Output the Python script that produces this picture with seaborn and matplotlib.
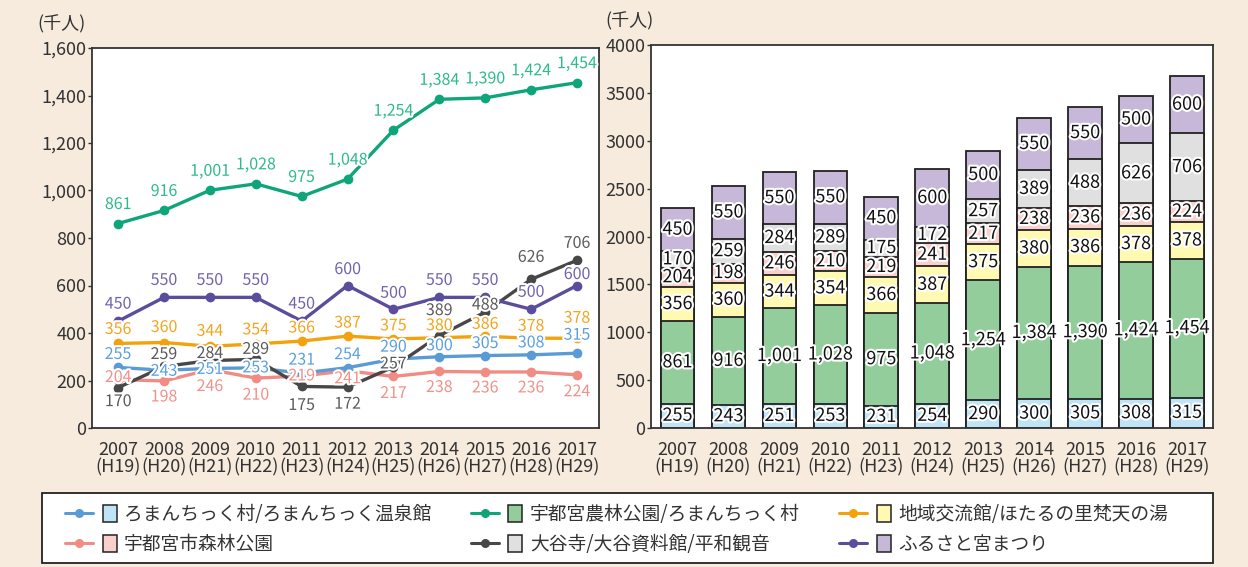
import numpy as np
import pandas as pd
import seaborn as sns
import matplotlib
matplotlib.use("Agg")
import matplotlib.pyplot as plt
import matplotlib.patheffects as pe
from matplotlib.lines import Line2D
from matplotlib.patches import Rectangle, Patch
from matplotlib.legend_handler import HandlerBase

# ---------------- data ----------------
years = ["2007", "2008", "2009", "2010", "2011", "2012", "2013", "2014", "2015", "2016", "2017"]
eras = ["(H19)", "(H20)", "(H21)", "(H22)", "(H23)", "(H24)", "(H25)", "(H26)", "(H27)", "(H28)", "(H29)"]
series_names = ["ろまんちっく村/ろまんちっく温泉館", "宇都宮農林公園/ろまんちっく村",
                "地域交流館/ほたるの里梵天の湯", "宇都宮市森林公園",
                "大谷寺/大谷資料館/平和観音", "ふるさと宮まつり"]
roman = [255, 243, 251, 253, 231, 254, 290, 300, 305, 308, 315]
nourin = [861, 916, 1001, 1028, 975, 1048, 1254, 1384, 1390, 1424, 1454]
chiiki = [356, 360, 344, 354, 366, 387, 375, 380, 386, 378, 378]
shinrin = [204, 198, 246, 210, 219, 241, 217, 238, 236, 236, 224]
ooya = [170, 259, 284, 289, 175, 172, 257, 389, 488, 626, 706]
furusato = [450, 550, 550, 550, 450, 600, 500, 550, 550, 500, 600]
values = [roman, nourin, chiiki, shinrin, ooya, furusato]

# ---------------- styles ----------------
line_colors = ["#5b9bd5", "#0ea57a", "#f2a20c", "#f08c84", "#474747", "#5b4d9c"]
label_colors = ["#5aa0e0", "#2dba8c", "#f5a41e", "#f29189", "#5a5a5a", "#6f63ad"]
fill_colors = ["#bfe4f7", "#93cd9c", "#fff9b1", "#f9d0cb", "#e0e0e0", "#c7b8da"]
# vertical label offsets (pixels, + = above the point)
label_dy = [
    [13, -1, -1, 0, 13, 13, 12, 11, 12, 12, 18],
    [19] * 11,
    [14, 15, 15, 14, 13, 13, 13, 12, 12, 12, 20],
    [2, -16, -17, -17, 0, -8, -17, -16, -16, -16, -17],
    [-14, 12, 7, 10, -19, -17, 3, 25, 7, 22, 17],
    [17, 17, 17, 17, 17, 16, 16, 17, 17, 17, 11],
]
draw_order = [1, 5, 4, 2, 0, 3]

W, H = 1248, 567
BG = "#f6ebdc"
DARK = "#333333"

sns.set_theme(style="white")
plt.rcParams["font.family"] = ["Noto Sans CJK JP", "DejaVu Sans"]

fig = plt.figure(figsize=(W / 100, H / 100), dpi=100, facecolor=BG)

def frac_axes(x0, y0, x1, y1):
    return fig.add_axes([x0 / W, 1 - y1 / H, (x1 - x0) / W, (y1 - y0) / H])

axL = frac_axes(92, 48, 599, 428)
axR = frac_axes(651, 45, 1213, 428)

xlabels = [f"{y}\n{e}" for y, e in zip(years, eras)]
xpos = np.arange(len(years))
halo = [pe.withStroke(linewidth=3, foreground="white")]

# ---------------- left: line chart ----------------
for i in draw_order:
    df = pd.DataFrame({"x": xpos, "y": values[i]})
    sns.lineplot(data=df, x="x", y="y", ax=axL, color=line_colors[i], linewidth=2.4,
                 marker="o", markersize=7, markeredgewidth=0, zorder=3 + (6 - draw_order.index(i)) * 0.1)
for i in range(6):
    for k, v in enumerate(values[i]):
        axL.annotate(f"{v:,}", (xpos[k], v), xytext=(0, label_dy[i][k]), textcoords="offset pixels",
                     ha="center", va="center", fontsize=11.5, color=label_colors[i],
                     path_effects=halo, zorder=6)
axL.set_xlim(-0.57, 10.48)
axL.set_ylim(0, 1600)
axL.set_yticks(range(0, 1601, 200))
axL.set_yticklabels([f"{t:,}" for t in range(0, 1601, 200)])
axL.set_xticks(xpos)
axL.set_xticklabels(xlabels, linespacing=0.95)
axL.set_xlabel("")
axL.set_ylabel("")

# ---------------- right: stacked bars ----------------
cum = np.cumsum(np.array(values), axis=0)
for i in range(5, -1, -1):
    df = pd.DataFrame({"cat": xlabels, "v": cum[i]})
    sns.barplot(data=df, x="cat", y="v", ax=axR, color=fill_colors[i], saturation=1,
                width=0.66, edgecolor="#222222", linewidth=1.3, order=xlabels)
for i in range(6):
    base = cum[i] - np.array(values[i])
    for k, v in enumerate(values[i]):
        axR.text(k, base[k] + v / 2, f"{v:,}", ha="center", va="center", fontsize=13,
                 color="#111111", path_effects=halo, zorder=6)
axR.set_xlim(-0.52, 10.51)
axR.set_ylim(0, 4000)
axR.set_yticks(range(0, 4001, 500))
axR.set_xticks(xpos)
axR.set_xticklabels(xlabels, linespacing=0.95)
axR.set_xlabel("")
axR.set_ylabel("")

for ax in (axL, axR):
    ax.set_facecolor("white")
    for s in ax.spines.values():
        s.set_visible(True)
        s.set_color(DARK)
        s.set_linewidth(1.3)
    ax.tick_params(axis="y", left=True, length=3, width=1, color=DARK, pad=1,
                   labelsize=13, labelcolor=DARK)
    ax.tick_params(axis="x", bottom=False, length=0, pad=9.5, labelsize=13, labelcolor=DARK)

fig.text(37 / W, 1 - 24 / H, "(千人)", fontsize=13, color=DARK, ha="left", va="center")
fig.text(605 / W, 1 - 21 / H, "(千人)", fontsize=13, color=DARK, ha="left", va="center")

# ---------------- legend ----------------
class LineBoxHandler(HandlerBase):
    def create_artists(self, legend, orig_handle, xdescent, ydescent, width, height, fontsize, trans):
        line, patch = orig_handle
        x0, y0 = -xdescent, -ydescent
        yc = y0 + height / 2
        lw_ = width * 0.55
        ln = Line2D([x0, x0 + lw_], [yc, yc], color=line.get_color(), linewidth=2.2, transform=trans)
        mk = Line2D([x0 + lw_ / 2], [yc], color=line.get_color(), marker="o", markersize=6.5,
                    markeredgewidth=0, linestyle="none", transform=trans)
        rw, rh = width * 0.27, 12
        rect = Rectangle((x0 + width - rw, yc - rh / 2), rw, rh, facecolor=patch.get_facecolor(),
                         edgecolor="#222222", linewidth=1.1, transform=trans)
        return [ln, mk, rect]

# legend frame box
fig.add_artist(Rectangle((42 / W, 1 - 563 / H), 1171 / W, 70 / H, transform=fig.transFigure,
                         facecolor="white", edgecolor="#222222", linewidth=1.3, zorder=1))

handles = [(Line2D([], [], color=line_colors[i]), Patch(facecolor=fill_colors[i])) for i in range(6)]
order = [0, 3, 1, 4, 2, 5]
leg = fig.legend([handles[i] for i in order], [series_names[i] for i in order],
                 handler_map={tuple: LineBoxHandler()}, ncol=3, loc="upper left",
                 bbox_to_anchor=(65 / W, 1 - 504 / H), borderaxespad=0, borderpad=0,
                 fontsize=13.5, handlelength=2.75, handletextpad=0.4, columnspacing=2.1,
                 labelspacing=0.47, frameon=False)
leg.set_zorder(2)
for t in leg.get_texts():
    t.set_color(DARK)

fig.savefig("out.png", dpi=100, facecolor=BG)
